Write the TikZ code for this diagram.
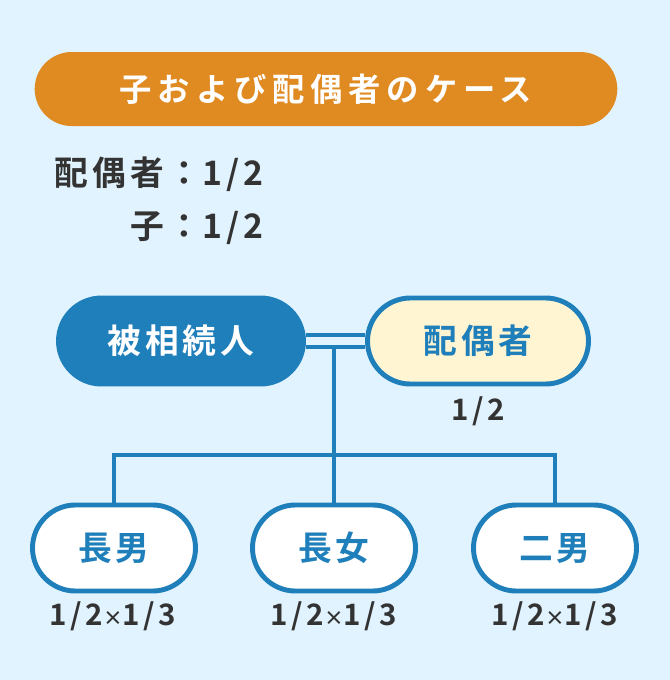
\documentclass[tikz,border=0pt]{standalone}
\usepackage{fontspec}
\setmainfont{Noto Sans CJK JP}[BoldFont={* Bold}, LetterSpace=12]
\usetikzlibrary{shapes.misc}

\definecolor{bgblue}{HTML}{E1F3FE}
\definecolor{heirblue}{HTML}{1F7FBA}
\definecolor{titleorange}{HTML}{E08A22}
\definecolor{spouseyellow}{HTML}{FFF5D3}
\definecolor{textgray}{HTML}{333333}

\newcommand{\smalltimes}{{\fontsize{14}{14}\selectfont ×}}

\tikzset{
  pill/.style={rounded rectangle, minimum width=#1*0.025cm, minimum height=2.15cm,
    font=\bfseries\fontsize{24}{24}\selectfont, line width=3.5pt, inner sep=0pt},
  share/.style={font=\bfseries\fontsize{21}{21}\selectfont, text=textgray},
  ratio/.style={share, font=\bfseries\fontsize{24}{24}\selectfont},
  link/.style={draw=heirblue, line width=3pt}
}

\begin{document}
\begin{tikzpicture}[x=0.025cm, y=-0.025cm]
% Background
\fill[bgblue] (0,0) rectangle (670,680);
\useasboundingbox (0,0) rectangle (670,680);

% Title bar
\node[rounded rectangle, fill=titleorange, minimum width=592*0.025cm, minimum height=74*0.025cm,
  text=white, font=\bfseries\fontsize{23}{23}\selectfont\addfontfeature{LetterSpace=18}] (title) at (326,89) {子および配偶者のケース};

% Shares
\node[ratio, anchor=base east, inner xsep=0pt] (ratiolabA) at (202,185) {配偶者：};
\node[ratio, anchor=base west, inner xsep=0pt] (ratioA) at (202,185) {1/2};
\node[ratio, anchor=base east, inner xsep=0pt] (ratiolabB) at (202,238) {子：};
\node[ratio, anchor=base west, inner xsep=0pt] (ratioB) at (202,238) {1/2};

% Couple
\node[pill=245, fill=heirblue, text=white, draw=heirblue] (heir) at (181,341) {被相続人};
\node[pill=221, fill=spouseyellow, text=heirblue, draw=heirblue] (spouse) at (478,341) {配偶者};
\node[share] (spouseshare) at (478,411) {1/2};

% Children
\node[pill=163, fill=white, text=heirblue, draw=heirblue] (son1) at (114,548) {長男};
\node[pill=163, fill=white, text=heirblue, draw=heirblue] (daughter) at (334,548) {長女};
\node[pill=163, fill=white, text=heirblue, draw=heirblue] (son2) at (555,548) {二男};
\node[share] (son1share) at (113,616) {1/2\smalltimes 1/3};
\node[share] (daughtershare) at (334,616) {1/2\smalltimes 1/3};
\node[share] (son2share) at (555,616) {1/2\smalltimes 1/3};

% Marriage line
\draw[link] ([yshift=0.15cm]heir.east) -- ([yshift=0.15cm]spouse.west);
\draw[link] ([yshift=-0.15cm]heir.east) -- ([yshift=-0.15cm]spouse.west);

% Descent lines
\coordinate (mid) at (334,347);
\coordinate (fork) at (334,455);
\draw[link] (mid) -- (daughter.north);
\draw[link] (son1.north) |- (fork) -| (son2.north);
\end{tikzpicture}
\end{document}
